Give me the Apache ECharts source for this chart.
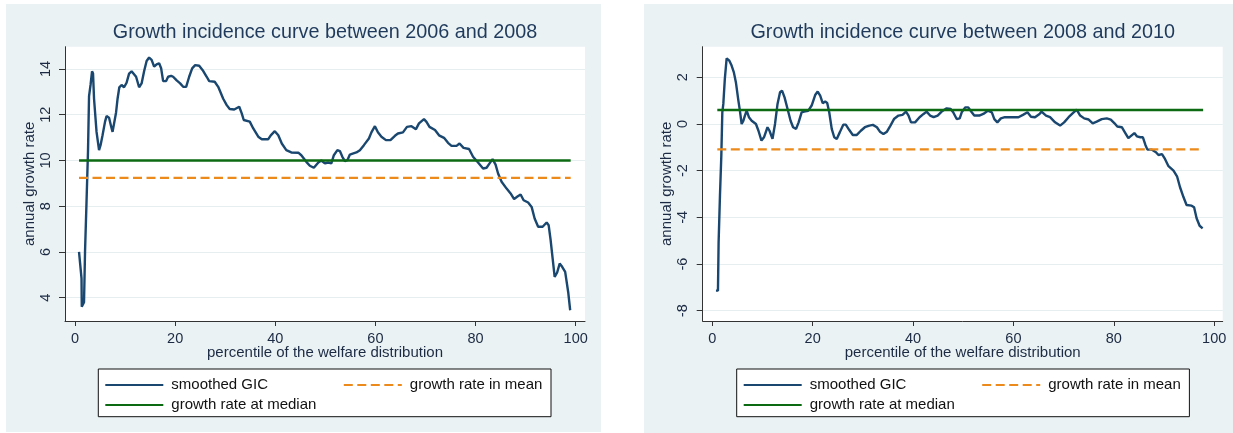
<!DOCTYPE html>
<html><head><meta charset="utf-8">
<script src="https://cdn.jsdelivr.net/npm/echarts@6/dist/echarts.min.js"></script>
<style>html,body{margin:0;padding:0;background:#fff}#c{width:1233px;height:433px}</style>
</head><body><div id="c"></div>
<script>
// ---------- data ----------
const chartTitles = ['Growth incidence curve between 2006 and 2008', 'Growth incidence curve between 2008 and 2010'];
const xAxisTitle = 'percentile of the welfare distribution';
const yAxisTitle = 'annual growth rate';
const seriesNames = ['smoothed GIC', 'growth rate in mean', 'growth rate at median'];
const xTicks = [0, 20, 40, 60, 80, 100];
const yTicksLeft = [4, 6, 8, 10, 12, 14];
const yTicksRight = [-8, -6, -4, -2, 0, 2];
const meanValues = [9.24, -1.09];
const medianValues = [10.0, 0.6];
const lineSpanLeft = [0.8, 99];
const lineSpanRight = [1.0, 97.8];

const gicLeft = [
[0.8,6.0],[1.1,6.0],[1.3,4.84],[1.35,3.6],[1.8,3.8],[2.0,6.0],[2.3,8.2],[2.6,10.45],[2.8,12.8],[3.1,13.3],[3.4,13.9],[3.6,13.8],[3.8,12.7],[4.3,11.25],[4.8,10.45],[5.1,10.67],[5.5,11.1],[6.0,11.7],[6.3,11.94],[6.8,11.87],[7.2,11.5],[7.5,11.25],[7.85,11.2],[8.2,12.1],[8.5,12.7],[8.85,13.2],[9.3,13.3],[9.8,13.2],[10.3,13.4],[10.8,13.8],[11.3,13.9],[11.6,13.95],[12.2,13.66],[12.8,13.2],[13.3,13.37],[13.8,13.9],[14.3,14.35],[14.8,14.5],[15.3,14.4],[15.8,14.1],[16.3,14.2],[16.8,14.25],[17.2,14.03],[17.6,13.47],[18.2,13.47],[18.6,13.66],[19.2,13.7],[19.6,13.66],[20.3,13.5],[21.0,13.37],[21.6,13.22],[22.2,13.22],[22.8,13.66],[23.4,14.03],[24.0,14.17],[24.8,14.14],[25.5,13.95],[26.3,13.66],[26.8,13.47],[27.9,13.44],[28.6,13.22],[29.6,12.7],[30.3,12.42],[30.9,12.25],[31.8,12.23],[32.8,12.35],[33.3,12.06],[33.7,11.77],[34.9,11.7],[35.6,11.4],[36.6,11.04],[37.3,10.93],[38.6,10.93],[39.1,11.1],[39.9,11.28],[40.6,11.1],[41.3,10.74],[42.2,10.45],[43.2,10.35],[44.6,10.34],[45.2,10.23],[46.2,9.94],[46.9,9.77],[47.7,9.68],[48.6,9.91],[49.2,10.0],[49.9,9.87],[50.6,9.91],[51.2,9.87],[51.7,10.23],[52.4,10.45],[52.9,10.41],[53.4,10.16],[53.9,9.97],[54.4,10.01],[54.9,10.26],[55.6,10.31],[56.2,10.35],[56.9,10.45],[57.7,10.67],[58.7,10.96],[59.2,11.23],[59.9,11.5],[60.5,11.23],[61.2,11.04],[62.1,10.89],[63.0,10.89],[63.9,11.08],[64.5,11.18],[65.5,11.23],[66.3,11.47],[67.2,11.5],[68.1,11.37],[68.7,11.62],[69.7,11.81],[70.2,11.69],[70.8,11.47],[71.9,11.33],[72.7,11.1],[73.7,10.99],[74.5,10.77],[75.2,10.64],[76.2,10.64],[76.8,10.74],[77.6,10.55],[78.7,10.5],[79.5,10.16],[80.5,9.91],[81.5,9.65],[82.2,9.68],[82.8,9.87],[83.4,10.06],[84.0,9.82],[84.5,9.43],[85.2,9.07],[86.2,8.77],[87.0,8.56],[87.7,8.31],[88.3,8.41],[89.0,8.51],[89.6,8.26],[90.5,8.16],[91.2,7.97],[91.8,7.46],[92.5,7.1],[93.4,7.1],[94.2,7.29],[94.6,7.17],[95.0,6.51],[95.4,5.71],[95.8,4.91],[96.3,5.1],[96.8,5.49],[97.3,5.35],[97.9,5.13],[98.5,4.25],[98.9,3.45]
];

const gicRight = [
[0.73,-7.14],[1.13,-7.14],[1.26,-5.07],[1.53,-3.07],[1.8,-1.36],[2.0,0.5],[2.2,0.86],[2.5,1.93],[2.86,2.81],[3.4,2.71],[3.85,2.5],[4.3,2.21],[4.7,1.79],[5.2,1.0],[5.5,0.57],[5.85,0.0],[6.2,0.14],[6.5,0.36],[6.85,0.57],[7.3,0.29],[7.85,0.14],[8.7,0.0],[9.2,-0.29],[9.8,-0.71],[10.3,-0.57],[11.0,-0.14],[11.4,-0.29],[12.0,-0.64],[12.5,0.0],[13.0,0.86],[13.5,1.36],[13.9,1.43],[14.4,1.14],[15.0,0.64],[15.6,0.14],[16.1,-0.14],[16.7,-0.21],[17.2,0.07],[17.8,0.5],[18.3,0.53],[19.1,0.56],[19.8,0.79],[20.5,1.24],[21.0,1.39],[21.5,1.21],[22.0,0.89],[22.5,0.96],[22.9,0.9],[23.3,0.5],[23.8,-0.21],[24.3,-0.57],[24.8,-0.64],[25.4,-0.36],[26.1,-0.03],[26.6,-0.03],[27.3,-0.26],[28.0,-0.47],[28.8,-0.47],[29.6,-0.29],[30.4,-0.14],[31.3,-0.07],[32.0,-0.04],[32.8,-0.14],[33.4,-0.33],[34.1,-0.43],[34.8,-0.33],[35.5,-0.07],[36.2,0.21],[37.1,0.36],[37.9,0.39],[38.6,0.53],[39.1,0.36],[39.6,0.07],[40.4,0.07],[41.3,0.29],[42.1,0.43],[42.7,0.53],[43.4,0.36],[44.1,0.29],[44.9,0.36],[45.7,0.53],[46.7,0.67],[47.5,0.64],[48.0,0.5],[48.7,0.21],[49.3,0.24],[49.7,0.5],[50.4,0.71],[51.0,0.71],[51.7,0.5],[52.2,0.36],[53.2,0.36],[54.0,0.43],[54.9,0.57],[55.7,0.5],[56.2,0.21],[56.8,0.07],[57.5,0.24],[58.3,0.29],[59.7,0.29],[61.0,0.29],[61.9,0.39],[62.8,0.5],[63.5,0.31],[64.3,0.29],[65.2,0.43],[65.6,0.53],[66.5,0.36],[67.3,0.29],[68.3,0.07],[69.3,-0.07],[70.1,0.07],[71.0,0.29],[72.0,0.5],[72.6,0.61],[73.3,0.36],[74.1,0.24],[75.0,0.19],[75.8,0.03],[76.6,0.1],[77.6,0.21],[78.6,0.24],[79.4,0.19],[80.1,0.04],[80.7,-0.11],[81.6,-0.14],[82.3,-0.39],[82.9,-0.61],[83.5,-0.5],[84.1,-0.39],[84.6,-0.53],[85.3,-0.57],[85.8,-0.57],[86.3,-0.9],[86.7,-1.1],[87.6,-1.1],[88.4,-1.21],[88.9,-1.33],[89.6,-1.29],[90.2,-1.5],[90.9,-1.81],[91.9,-2.0],[92.6,-2.24],[93.2,-2.71],[93.9,-3.14],[94.5,-3.47],[95.5,-3.5],[96.0,-3.57],[96.5,-4.04],[97.1,-4.36],[97.7,-4.47]
];

// ---------- styling ----------
const FONT = '"Liberation Sans", Arial, sans-serif';
const C_NAVY = '#1a476f', C_ORANGE = '#ec8a1c', C_GREEN = '#0b6a12';
const C_PANEL = '#eaf2f3', C_GRID = '#e6eef0', C_AXIS = '#333';
const C_TEXT = '#1c2a44', C_TITLE = '#1f3a5c';

const panels = [
  {x: 6, y: 4, w: 595, h: 428, gridLeft: 65, xMin: -2.0, xMax: 101.86, yMin: 2.98, yMax: 14.975, yTicks: yTicksLeft, gic: gicLeft, span: lineSpanLeft, legendLeft: 98.3},
  {x: 644, y: 4, w: 589, h: 429, gridLeft: 702.7, xMin: -1.91, xMax: 101.7, yMin: -8.44, yMax: 3.31, yTicks: yTicksRight, gic: gicRight, span: lineSpanRight, legendLeft: 736.7}
];
const GRID_TOP = 46.7, GRID_H = 274.3, GRID_W = 520;

const grids = [], xAxes = [], yAxes = [], series = [], titles = [], legends = [], graphics = [];
panels.forEach((p, i) => {
  graphics.push({type: 'rect', z: -10, shape: {x: p.x, y: p.y, width: p.w, height: p.h}, style: {fill: C_PANEL}, silent: true});
  graphics.push({type: 'rect', z: 0, shape: {x: p.legendLeft, y: 369, width: 452.7, height: 47.7}, style: {fill: '#fff', stroke: '#111', lineWidth: 1}, silent: true});
  grids.push({left: p.gridLeft, top: GRID_TOP, width: GRID_W, height: GRID_H, show: true, backgroundColor: '#fff', borderWidth: 0, containLabel: false});
  titles.push({text: chartTitles[i], left: p.gridLeft + GRID_W / 2, textAlign: 'center', top: 23, padding: 0,
    textStyle: {fontFamily: FONT, fontSize: 19.8, fontWeight: 'normal', color: C_TITLE}});
  xAxes.push({type: 'value', gridIndex: i, min: p.xMin, max: p.xMax,
    name: xAxisTitle, nameLocation: 'middle', nameGap: 24.5, nameMoveOverlap: false,
    nameTextStyle: {fontFamily: FONT, fontSize: 15, color: C_TEXT},
    axisLine: {show: true, onZero: false, lineStyle: {color: C_AXIS, width: 1}},
    axisTick: {show: true, length: 5, customValues: xTicks, lineStyle: {color: C_AXIS}},
    axisLabel: {customValues: xTicks, fontFamily: FONT, fontSize: 14.5, color: C_TEXT, margin: 10},
    splitLine: {show: false}});
  yAxes.push({type: 'value', gridIndex: i, min: p.yMin, max: p.yMax,
    name: yAxisTitle, nameLocation: 'middle', nameRotate: 90, nameGap: 28, nameMoveOverlap: false,
    nameTextStyle: {fontFamily: FONT, fontSize: 15, color: C_TEXT},
    axisLine: {show: true, onZero: false, lineStyle: {color: C_AXIS, width: 1}},
    axisTick: {show: true, length: 6, customValues: p.yTicks, lineStyle: {color: C_AXIS}},
    axisLabel: {customValues: p.yTicks, rotate: 90, fontFamily: FONT, fontSize: 14.5, color: C_TEXT, margin: 12},
    splitLine: {show: true, lineStyle: {color: C_GRID, width: 1.2}}});
  series.push({name: seriesNames[0], type: 'line', xAxisIndex: i, yAxisIndex: i, data: p.gic,
    symbol: 'none', showSymbol: false, lineStyle: {color: C_NAVY, width: 2.4}, itemStyle: {color: C_NAVY}, silent: true, z: 3});
  series.push({name: seriesNames[1], type: 'line', xAxisIndex: i, yAxisIndex: i,
    data: p.span.map(x => [x, meanValues[i]]),
    symbol: 'none', showSymbol: false, lineStyle: {color: C_ORANGE, width: 2.4, type: [9, 4.5]}, itemStyle: {color: C_ORANGE}, silent: true, z: 4});
  series.push({name: seriesNames[2], type: 'line', xAxisIndex: i, yAxisIndex: i,
    data: p.span.map(x => [x, medianValues[i]]),
    symbol: 'none', showSymbol: false, lineStyle: {color: C_GREEN, width: 2.6}, itemStyle: {color: C_GREEN}, silent: true, z: 5});
  const lg = (name, left, top) => ({show: true, left: left, top: top, padding: 0, itemWidth: 58, itemHeight: 14,
    selectedMode: false, data: [name], z: 6,
    itemStyle: {opacity: 0, color: 'transparent', borderWidth: 0},
    textStyle: {fontFamily: FONT, fontSize: 15, color: '#111', padding: [0, 0, 0, 3]}});
  legends.push(lg(seriesNames[0], p.legendLeft + 6, 377.5));
  legends.push(lg(seriesNames[2], p.legendLeft + 6, 397.5));
  legends.push(lg(seriesNames[1], p.legendLeft + 244.5, 377.5));
});

const chart = echarts.init(document.getElementById('c'), null, {renderer: 'canvas'});
chart.setOption({
  animation: false,
  backgroundColor: '#fff',
  textStyle: {fontFamily: FONT},
  title: titles, grid: grids, xAxis: xAxes, yAxis: yAxes, series: series, legend: legends,
  graphic: {elements: graphics}
});
</script></body></html>
